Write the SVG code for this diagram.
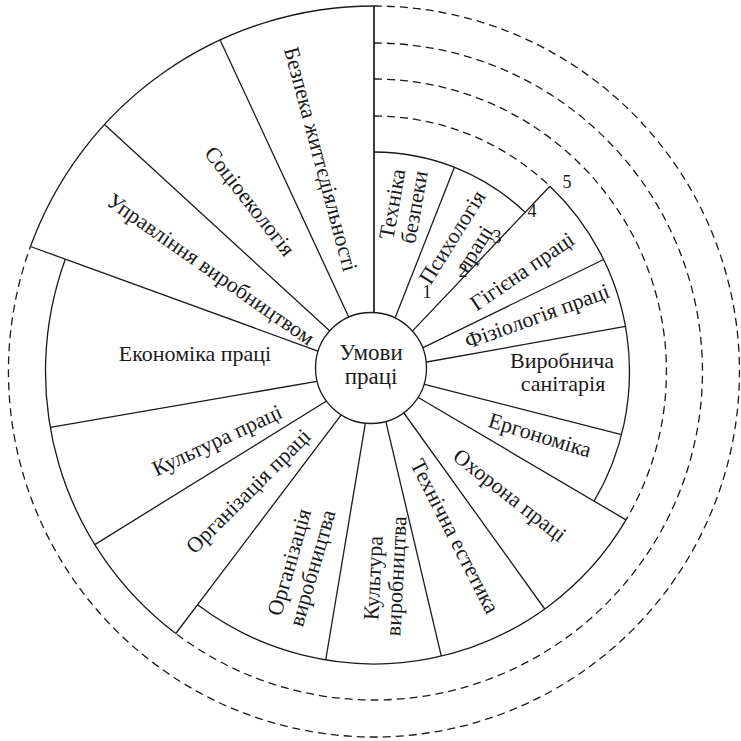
<svg xmlns="http://www.w3.org/2000/svg" width="741" height="741" viewBox="0 0 741 741">
<style>
.ln{stroke:#1a1a1a;stroke-width:1.3;fill:none}
.ds{stroke:#1a1a1a;stroke-width:1.3;fill:none;stroke-dasharray:8 5}
.t{font-family:"Liberation Serif","DejaVu Serif",serif;font-size:22px;fill:#1a1a1a;text-anchor:middle}
.r{dominant-baseline:central}
.n{font-family:"Liberation Serif","DejaVu Serif",serif;font-size:18px;fill:#1a1a1a;text-anchor:middle}
</style>
<rect width="741" height="741" fill="#fff"/>
<g id="connectors">
<path class="ln" d="M374,152 A219.5,219.5 0 0 1 525.1,212.3"/>
<path class="ln" d="M549.9,186.2 A255.5,255.5 0 0 1 594.1,501.2"/>
<path class="ln" d="M626,519.9 A292.5,292.5 0 0 1 197.6,604.8"/>
<path class="ln" d="M175.8,633.5 A328.5,328.5 0 0 1 65.3,259.2"/>
<path class="ln" d="M30.5,246.5 A365.5,365.5 0 0 1 374,6"/>
<path class="ds" d="M374,116 A255.5,255.5 0 0 1 549.9,186.2"/>
<path class="ds" d="M374,79 A292.5,292.5 0 0 1 626,519.9"/>
<path class="ds" d="M374,43 A328.5,328.5 0 1 1 175.8,633.5"/>
<path class="ds" d="M374,6 A365.5,365.5 0 1 1 30.5,246.5"/>
<line class="ln" style="stroke-width:1.7" x1="374" y1="326.5" x2="374" y2="6"/>
<line class="ln" x1="390.5" y1="329.6" x2="454.4" y2="167.3"/>
<line class="ln" x1="405" y1="338.9" x2="549.9" y2="186.2"/>
<line class="ln" x1="414.4" y1="351.8" x2="603.6" y2="259.5"/>
<line class="ln" x1="418.3" y1="363.5" x2="625.5" y2="326.3"/>
<line class="ln" x1="417.6" y1="382.6" x2="621.6" y2="434.6"/>
<line class="ln" x1="412.8" y1="394.3" x2="626" y2="519.9"/>
<line class="ln" x1="400.3" y1="408" x2="544.7" y2="609"/>
<line class="ln" x1="384.4" y1="415.3" x2="441.3" y2="656.2"/>
<line class="ln" x1="366.6" y1="415.9" x2="325.7" y2="660"/>
<line class="ln" x1="346.9" y1="407.4" x2="175.8" y2="633.5"/>
<line class="ln" x1="335.8" y1="395.2" x2="94.8" y2="544.6"/>
<line class="ln" x1="329.7" y1="379.2" x2="50.3" y2="427.4"/>
<line class="ln" x1="331.7" y1="356.1" x2="30.5" y2="246.5"/>
<line class="ln" x1="340.8" y1="341.1" x2="104.5" y2="124.6"/>
<line class="ln" x1="355.1" y1="330.7" x2="220.1" y2="40"/>
</g>
<g id="centre">
<circle cx="371" cy="368" r="55.5" fill="#fff" stroke="#1a1a1a" stroke-width="1.3"/>
<text class="t" style="font-size:23px" x="371" y="360">Умови</text>
<text class="t" style="font-size:23px" x="371" y="384">праці</text>
</g>
<g id="tekhnika-bezpeky">
<text class="t r" transform="translate(392,204) rotate(-80)">Техніка</text>
<text class="t r" transform="translate(414,207) rotate(-80)">безпеки</text>
</g>
<g id="psykholohiia-pratsi">
<text class="t r" transform="translate(452,237) rotate(-58)">Психологія</text>
<text class="t r" transform="translate(474,249) rotate(-58)">праці</text>
</g>
<g id="hihiiena-pratsi">
<text class="t r" transform="translate(522,271) rotate(-34.5)">Гігієна праці</text>
</g>
<g id="fiziolohiia-pratsi">
<text class="t r" transform="translate(537,316) rotate(-20)">Фізіологія праці</text>
</g>
<g id="vyrobnycha-sanitariia">
<text class="t" x="562" y="368">Виробнича</text>
<text class="t" x="563" y="391">санітарія</text>
</g>
<g id="erhonomika">
<text class="t r" transform="translate(540,435) rotate(17)">Ергономіка</text>
</g>
<g id="okhorona-pratsi">
<text class="t r" transform="translate(510,495) rotate(38)">Охорона праці</text>
</g>
<g id="tekhnichna-estetyka">
<text class="t r" transform="translate(455,536) rotate(63)">Технічна естетика</text>
</g>
<g id="kultura-vyrobnytstva">
<text class="t r" transform="translate(373,578) rotate(-87)">Культура</text>
<text class="t r" transform="translate(396,576) rotate(-87)">виробництва</text>
</g>
<g id="orhanizatsiia-vyrobnytstva">
<text class="t r" transform="translate(289,562) rotate(-74)">Організація</text>
<text class="t r" transform="translate(312,568) rotate(-74)">виробництва</text>
</g>
<g id="orhanizatsiia-pratsi">
<text class="t r" transform="translate(248,491) rotate(-45)">Організація праці</text>
</g>
<g id="kultura-pratsi">
<text class="t r" transform="translate(217,440) rotate(-25)">Культура праці</text>
</g>
<g id="ekonomika-pratsi">
<text class="t" x="195" y="361">Економіка праці</text>
</g>
<g id="upravlinnia-vyrobnytstvom">
<text class="t r" transform="translate(211,269) rotate(35)">Управління виробництвом</text>
</g>
<g id="sotsioekolohiia">
<text class="t r" transform="translate(250,201) rotate(52)">Соціоекологія</text>
</g>
<g id="bezpeka-zhyttiediialnosti">
<text class="t r" transform="translate(321,159) rotate(75)">Безпека життєдіяльності</text>
</g>
<g id="levels">
<text class="n" x="427" y="298">1</text>
<text class="n" x="463" y="277">2</text>
<text class="n" x="497" y="243">3</text>
<text class="n" x="532" y="217">4</text>
<text class="n" x="567" y="188">5</text>
</g>
</svg>
